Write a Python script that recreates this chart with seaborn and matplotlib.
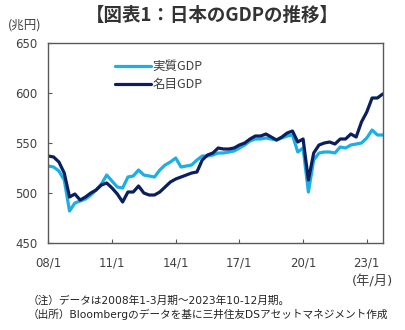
import numpy as np
import pandas as pd
import matplotlib
matplotlib.use("Agg")
import matplotlib.pyplot as plt
import seaborn as sns

# Quarterly GDP, 2008 Q1 - 2023 Q4 (trillion yen)
quarters = [f"{y}Q{q}" for y in range(2008, 2024) for q in range(1, 5)]

real_gdp = [527, 526, 522, 513, 482, 490, 492, 494, 498, 503, 509, 518,
            512, 506, 505, 516, 517, 523, 518, 517, 516, 523, 528, 531,
            535, 526, 527, 528, 533, 537, 537, 538, 540, 540, 541, 542,
            545, 548, 552, 554, 554, 555, 554, 553, 555, 557, 558, 541,
            545, 501, 533, 540, 541, 541, 540, 546, 545, 548, 549, 550,
            555, 563, 558, 558]

nominal_gdp = [537, 536, 531, 520, 496, 499, 493, 496, 500, 503, 508, 510,
               505, 499, 491, 501, 501, 507, 500, 498, 498, 501, 506, 511,
               514, 516, 518, 520, 521, 533, 538, 540, 545, 544, 544, 545,
               548, 550, 554, 557, 557, 559, 556, 553, 556, 560, 562, 551,
               554, 513, 540, 548, 550, 551, 549, 554, 554, 559, 556, 571,
               581, 595, 595, 599]

series_names = ["実質GDP", "名目GDP"]
series_colors = ["#1AAFE6", "#0B1F5E"]

tick_positions = [0, 12, 24, 36, 48, 60]
tick_labels = ["08/1", "11/1", "14/1", "17/1", "20/1", "23/1"]
y_ticks = [450, 500, 550, 600, 650]

df = pd.DataFrame({
    "idx": list(range(len(quarters))) * 2,
    "quarter": quarters * 2,
    "value": real_gdp + nominal_gdp,
    "series": [series_names[0]] * len(quarters) + [series_names[1]] * len(quarters),
})

sns.set_theme(style="white")
# Latin glyphs from DejaVu (wide digits), Japanese falls through to Noto CJK
mixed = ["DejaVu Sans", "Noto Sans CJK JP"]
cjk = ["Noto Sans CJK JP", "DejaVu Sans"]
plt.rcParams["font.family"] = mixed
text_color = "#404040"

fig = plt.figure(figsize=(4.06, 3.30), dpi=100)
ax = fig.add_axes([0.119, 0.2636, 0.8236, 0.6061])

sns.lineplot(data=df, x="idx", y="value", hue="series",
             palette=dict(zip(series_names, series_colors)),
             linewidth=2.3, ax=ax, legend=False)

ax.set_xlim(0, len(quarters) - 1)
ax.set_ylim(450, 650)
ax.set_xticks(tick_positions)
ax.set_xticklabels(tick_labels)
ax.set_yticks(y_ticks)
ax.set_xlabel("")
ax.set_ylabel("")

ax.tick_params(axis="both", direction="in", length=3, width=0.8,
               color="#595959", labelsize=8.5, labelcolor=text_color, pad=8)
ax.tick_params(axis="x", pad=10)
ax.tick_params(left=True, bottom=True)
for sp in ax.spines.values():
    sp.set_visible(True)
    sp.set_color("#595959")
    sp.set_linewidth(1.0)

handles = [plt.Line2D([], [], color=c, lw=2.3) for c in series_colors]
leg = ax.legend(handles, series_names, loc="upper left",
                bbox_to_anchor=(0.185, 0.94), frameon=False,
                prop={"family": cjk, "size": 9}, handlelength=2.9,
                handletextpad=0.1, labelspacing=0.4, borderaxespad=0)
for t in leg.get_texts():
    t.set_color(text_color)

fig.text(0.523, 0.953, "【図表1：日本のGDPの推移】", ha="center", va="center",
         fontsize=13.3, fontweight="bold", color="#333333", family=cjk)
fig.text(0.02, 0.924, "(兆円)", ha="left", va="center", fontsize=9,
         color=text_color, family=cjk)
fig.text(0.968, 0.145, "(年/月)", ha="right", va="center", fontsize=9.5,
         color=text_color)
fig.text(0.067, 0.088, "（注）データは2008年1-3月期～2023年10-12月期。",
         ha="left", va="center", fontsize=7.7, color="#222222")
fig.text(0.067, 0.048, "（出所）Bloombergのデータを基に三井住友DSアセットマネジメント作成",
         ha="left", va="center", fontsize=7.7, color="#222222")

fig.savefig("out.png", dpi=100)
